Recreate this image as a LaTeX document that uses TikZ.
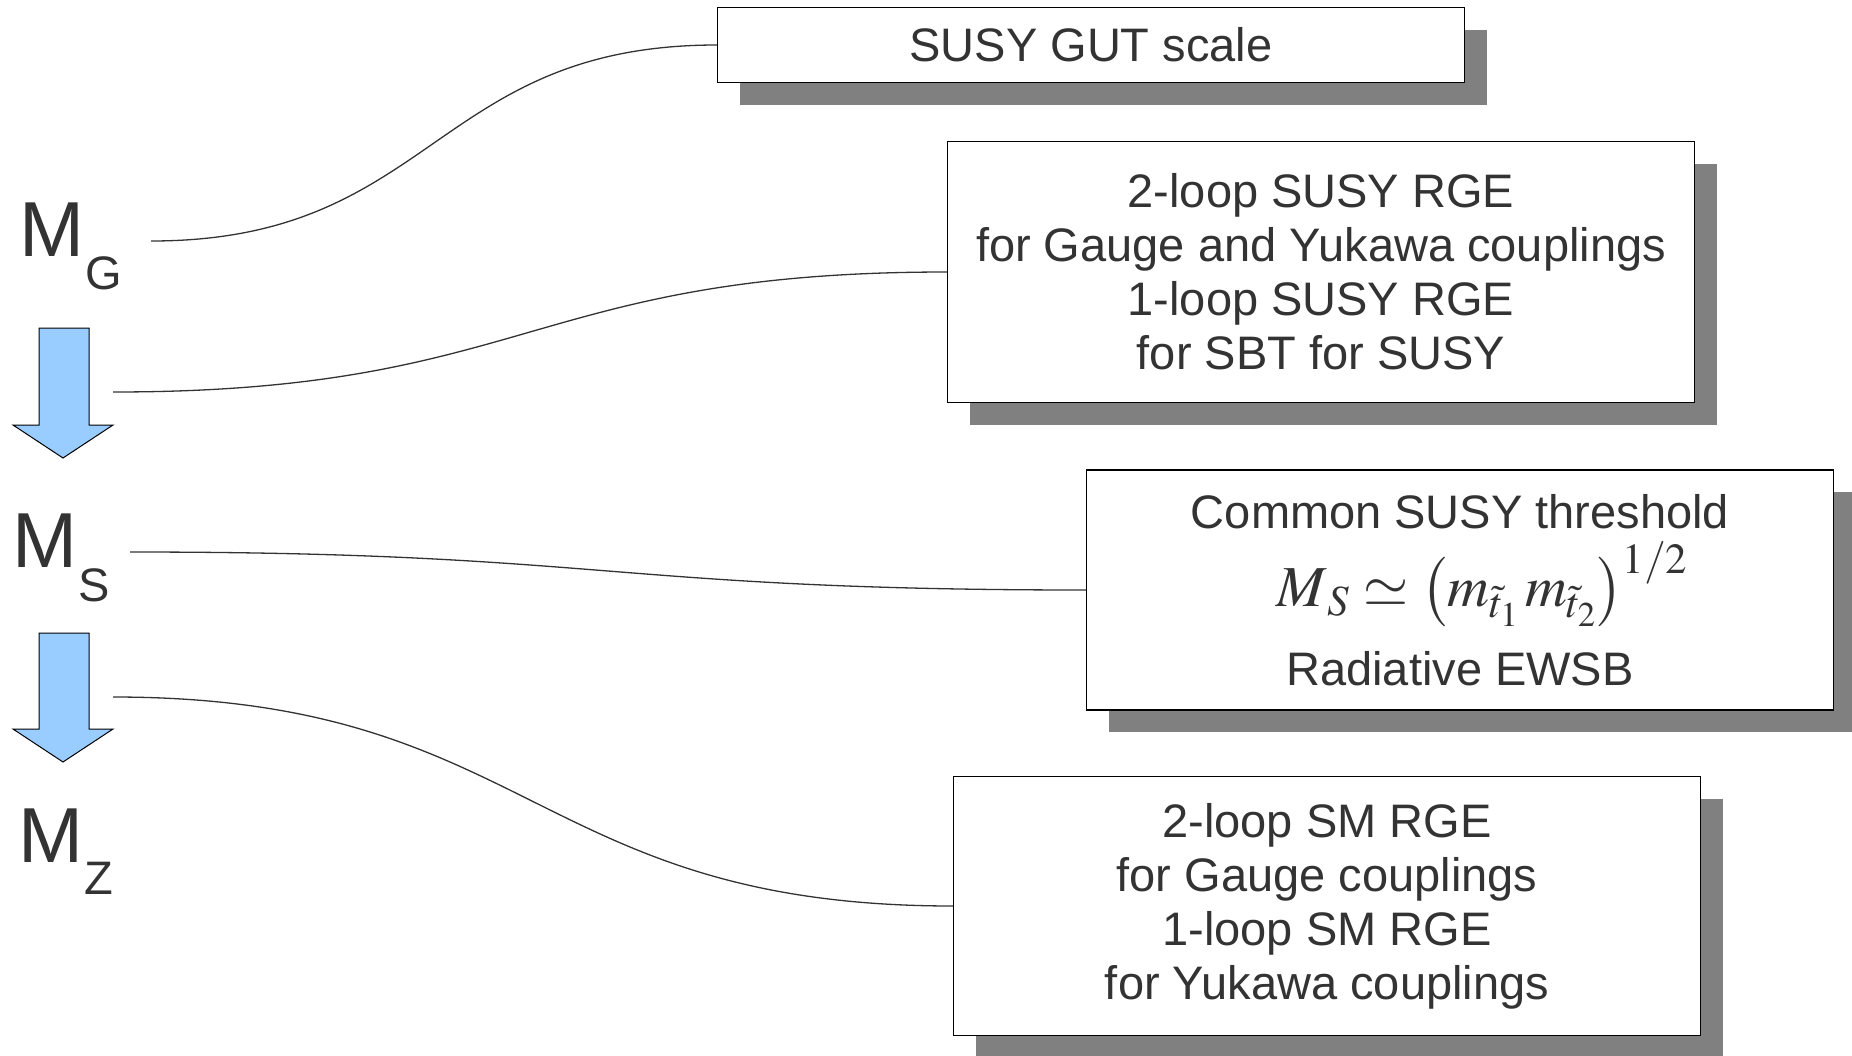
\documentclass[tikz,border=0pt]{standalone}
\usepackage{mathptmx}
\usepackage[no-math]{fontspec}
\setmainfont{Liberation Sans}
\usetikzlibrary{shadows}
\definecolor{txt}{RGB}{51,51,51}
\definecolor{shade}{RGB}{128,128,128}
\definecolor{flow}{RGB}{153,204,255}

\tikzset{
  scalebox/.style={draw=black, line width=1.2pt, fill=white, text=txt,
    align=center, minimum width=747pt, inner sep=0pt,
    font=\fontsize{47}{54}\selectfont,
    drop shadow={shadow xshift=22pt, shadow yshift=-22pt,
      fill=shade, opacity=1}},
  link/.style={draw=txt, line width=1.3pt},
  flowarrow/.style={draw=black, line width=1pt, fill=flow},
  bigM/.style={text=txt, font=\fontsize{78}{78}\selectfont,
    inner sep=0pt, anchor=base west},
  subM/.style={text=txt, font=\fontsize{47}{47}\selectfont,
    inner sep=0pt, anchor=base west},
}

\begin{document}
\begin{tikzpicture}[x=1pt,y=-1pt]
	\useasboundingbox (0,0) rectangle (1852,1055);

	% scale labels
	\node[bigM] (mg) at (19,256) {M};
	\node[subM] (mgsub) at (85,289) {G};
	\node[bigM] (ms) at (12,567) {M};
	\node[subM] (mssub) at (78,601) {S};
	\node[bigM] (mz) at (18,862) {M};
	\node[subM] (mzsub) at (84,894) {Z};

	% running direction
	\draw[flowarrow] (39,328) -- (89,328) -- (89,425) -- (113,425)
		-- (63,458) -- (13,425) -- (39,425) -- cycle;
	\draw[flowarrow] (39,633) -- (89,633) -- (89,729) -- (113,729)
		-- (63,762) -- (13,729) -- (39,729) -- cycle;

	% boxes
	\node[scalebox, minimum height=75pt] (gut) at (1091,45) {SUSY GUT scale};
	\node[scalebox, minimum height=261pt] (susyrge) at (1321,272)
		{2-loop SUSY RGE\\ for Gauge and Yukawa couplings\\
		 1-loop SUSY RGE\\ for SBT for SUSY};
	\node[scalebox, minimum height=240pt] (thr) at (1460,590)
		{Common SUSY threshold\\[12pt]
		 \hspace*{44pt}{\fontsize{58}{58}\selectfont
		  $M_{\,S}\simeq\left(m_{\tilde t_1}\, m_{\tilde t_2}\right)^{1/2}$}\\[23pt]
		 Radiative EWSB};
	\node[scalebox, minimum height=259pt] (smrge) at (1327,906)
		{2-loop SM RGE\\ for Gauge couplings\\
		 1-loop SM RGE\\ for Yukawa couplings};

	% connectors
	\coordinate (c1) at (151,241);
	\coordinate (c2) at (113,392);
	\coordinate (c3) at (130,552);
	\coordinate (c4) at (113,697);
	\draw[link] (c1) .. controls +(283,0) and +(-283,0) .. (gut.west);
	\draw[link] (c2) .. controls +(417,0) and +(-417,0) .. (susyrge.west);
	\draw[link] (c3) .. controls +(478,0) and +(-478,0) .. (thr.west);
	\draw[link] (c4) .. controls +(420,0) and +(-420,0) .. (smrge.west);
\end{tikzpicture}
\end{document}
